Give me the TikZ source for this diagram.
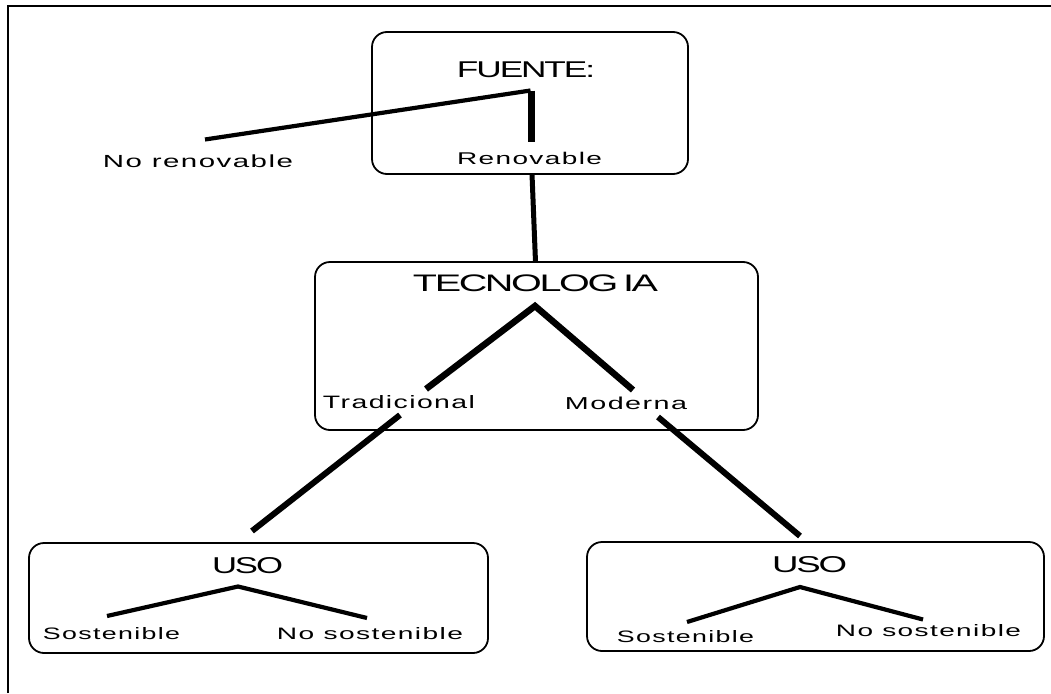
\documentclass[tikz,border=0pt]{standalone}
\usepackage{fontspec}
\usepackage{graphicx}
\setmainfont{Liberation Sans}
\newfontfamily\widefont[LetterSpace=5]{Liberation Sans}
\newfontfamily\tightfont[LetterSpace=-6]{Liberation Sans}
\newcommand{\fitt}[3]{\resizebox{#1pt}{#2pt}{#3}}
\begin{document}
\begin{tikzpicture}[x=1pt,y=-1pt,
  box/.style={draw=black, line width=1.8pt, rounded corners=15pt, inner sep=0pt},
  lbl/.style={inner sep=0pt, anchor=center},
  thin/.style={line width=4.2pt},
  thick/.style={line width=6.5pt}]
\useasboundingbox (0,0) rectangle (1051,693);
% outer frame (top and left only)
\coordinate (frA) at (8,693);
\coordinate (frB) at (8,6);
\coordinate (frC) at (1051,6);
\draw[line width=2pt] (frA) -- (frB) -- (frC);

% boxes
\node[box, minimum width=316pt, minimum height=142pt] (fuente) at (530,103) {};
\node[box, minimum width=443pt, minimum height=168pt] (tec) at (536.5,346) {};
\node[box, minimum width=459pt, minimum height=110pt] (usoL) at (258.5,598) {};
\node[box, minimum width=457pt, minimum height=109pt] (usoR) at (815.5,596.5) {};

% texts
\node[lbl] (tFuente) at (526,69.5) {\fitt{138}{15.7}{\tightfont FUENTE:}};
\node[lbl] (tRen) at (529.5,158) {\fitt{145}{12.3}{\widefont Renovable}};
\node[lbl] (tNoRen) at (198,161.3) {\fitt{190}{12.7}{\widefont No renovable}};
\node[lbl] (tTec) at (535.5,283.3) {\fitt{245}{16.7}{\tightfont TECNOLOG\kern0.12em IA}};
\node[lbl] (tTrad) at (399,402.5) {\fitt{152}{13}{\widefont Tradicional}};
\node[lbl] (tMod) at (626,403) {\fitt{122}{12.5}{\widefont Moderna}};
\node[lbl] (tUsoL) at (247.5,566) {\fitt{71}{16}{\tightfont USO}};
\node[lbl] (tSosL) at (111.5,634) {\fitt{137}{12}{\widefont Sostenible}};
\node[lbl] (tNoSosL) at (370,634) {\fitt{186}{12}{\widefont No sostenible}};
\node[lbl] (tUsoR) at (809.5,565) {\fitt{75}{16}{\tightfont USO}};
\node[lbl] (tSosR) at (685.5,637) {\fitt{137}{12}{\widefont Sostenible}};
\node[lbl] (tNoSosR) at (928.5,631) {\fitt{185}{12}{\widefont No sostenible}};

% connector points
\coordinate (fTop) at (531.5,90.5);
\coordinate (fBot) at (531.5,142);
\coordinate (fLeft) at (205,139.5);
\coordinate (fOut) at (532,174);
\coordinate (tIn) at (535.5,262);
\coordinate (tApex) at (535,306);
\coordinate (tL) at (426,389);
\coordinate (tR) at (633,390);
\coordinate (tOutL) at (400,415);
\coordinate (tOutR) at (658,417);
\coordinate (uLin) at (252,531);
\coordinate (uRin) at (800,536);
\coordinate (uLapex) at (238,586.5);
\coordinate (uLl) at (107,616);
\coordinate (uLr) at (367,618);
\coordinate (uRapex) at (800,587);
\coordinate (uRl) at (687,622);
\coordinate (uRr) at (923,619.5);

% FUENTE branches
\draw[line width=7pt] (fTop) -- (fBot);
\draw[thin] (fLeft) -- ([xshift=-1pt]fTop);
% FUENTE -> TECNOLOGIA
\draw[line width=5pt] (fOut) -- (tIn);
% TECNOLOGIA branches
\draw[thick, line join=miter] (tL) -- (tApex) -- (tR);
% TECNOLOGIA -> USO
\draw[line width=6pt] (tOutL) -- (uLin);
\draw[line width=6pt] (tOutR) -- (uRin);
% USO branches
\draw[line width=4.2pt] (uLl) -- (uLapex) -- (uLr);
\draw[line width=4.2pt] (uRl) -- (uRapex) -- (uRr);
\end{tikzpicture}
\end{document}
